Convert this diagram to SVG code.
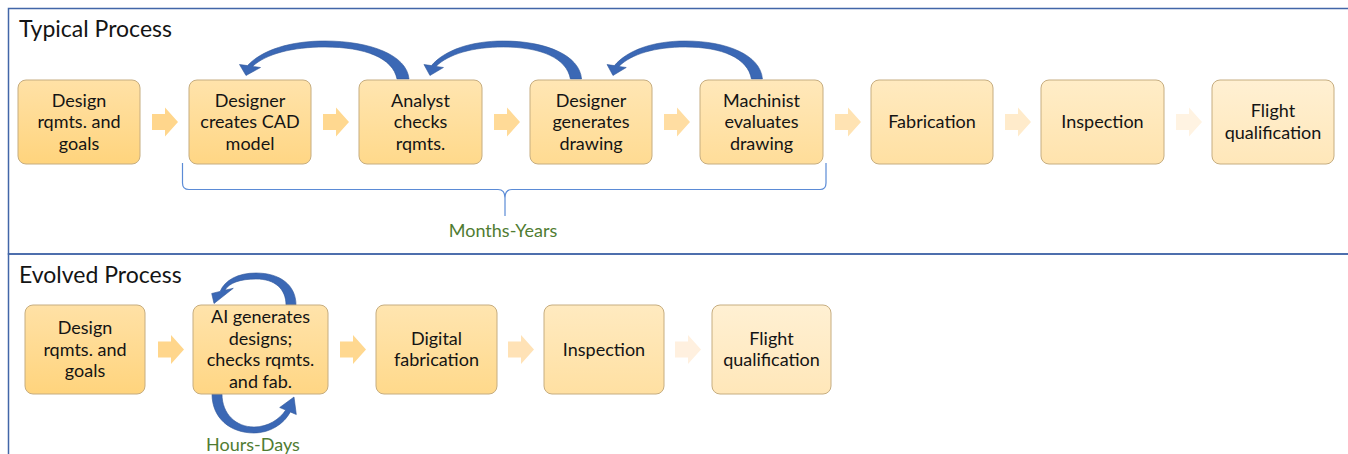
<svg xmlns="http://www.w3.org/2000/svg" xmlns:xlink="http://www.w3.org/1999/xlink" width="1348" height="454" viewBox="0 0 1348 454">
<style>
.frame{fill:none;stroke:#4266A8;stroke-width:1.5}
.box{stroke:#C6AD80;stroke-width:1}
.t{font-family:Lato,"Liberation Sans",sans-serif;font-size:18px;fill:#141414;text-anchor:middle}
.title{font-family:Lato,"Liberation Sans",sans-serif;font-size:23px;fill:#141414}
.dur{font-family:Lato,"Liberation Sans",sans-serif;font-size:18px;fill:#507C32;text-anchor:middle}
.loop{fill:#3B68B5;stroke:#2F5698;stroke-width:0.6}
.brace{fill:none;stroke:#5B8BD6;stroke-width:1.2}
</style>
<defs>
<linearGradient id="g1" x1="0" y1="0" x2="0" y2="1"><stop offset="0" stop-color="#FFE1A6"/><stop offset="1" stop-color="#FFD47D"/></linearGradient>
<linearGradient id="g2" x1="0" y1="0" x2="0" y2="1"><stop offset="0" stop-color="#FFE3AB"/><stop offset="1" stop-color="#FFD684"/></linearGradient>
<linearGradient id="g3" x1="0" y1="0" x2="0" y2="1"><stop offset="0" stop-color="#FFE5B0"/><stop offset="1" stop-color="#FFD98B"/></linearGradient>
<linearGradient id="g4" x1="0" y1="0" x2="0" y2="1"><stop offset="0" stop-color="#FFE6B4"/><stop offset="1" stop-color="#FFDB92"/></linearGradient>
<linearGradient id="g5" x1="0" y1="0" x2="0" y2="1"><stop offset="0" stop-color="#FFE8BA"/><stop offset="1" stop-color="#FFDD99"/></linearGradient>
<linearGradient id="g6" x1="0" y1="0" x2="0" y2="1"><stop offset="0" stop-color="#FFEAC0"/><stop offset="1" stop-color="#FFE0A2"/></linearGradient>
<linearGradient id="g7" x1="0" y1="0" x2="0" y2="1"><stop offset="0" stop-color="#FFEDC8"/><stop offset="1" stop-color="#FFE3AD"/></linearGradient>
<linearGradient id="g8" x1="0" y1="0" x2="0" y2="1"><stop offset="0" stop-color="#FFF0D3"/><stop offset="1" stop-color="#FFE7B9"/></linearGradient>
<path id="chev" d="M0,-8 H13 V-14.5 L26,0 L13,14.5 V8 H0 Z"/>
<path id="curv" d="M409,79 C407,55 370,41 325,41 C290,41 262,50 247.5,65.6 L239.5,64.5 L246,75.5 L260.5,67.5 L252.5,66.4 C266,54 292,47 325,47 C365,47 393,58 397,79 Z"/>
</defs>
<rect width="1348" height="454" fill="#FFFFFF"/>
<rect class="frame" x="8.5" y="8.5" width="1350" height="245.5"/>
<rect class="frame" x="8.5" y="254" width="1350" height="220"/>
<text class="title" x="19" y="37">Typical Process</text>
<text class="title" x="19" y="283">Evolved Process</text>

<g id="connectors">
<use href="#chev" x="152" y="122" fill="#FFD68C"/>
<use href="#chev" x="323" y="122" fill="#FFD890"/>
<use href="#chev" x="494" y="122" fill="#FFDA97"/>
<use href="#chev" x="664" y="122" fill="#FFDDA2"/>
<use href="#chev" x="835" y="122" fill="#FFE3B3"/>
<use href="#chev" x="1005" y="122" fill="#FFEBCB"/>
<use href="#chev" x="1176" y="122" fill="#FFF3E2"/>
<use href="#chev" x="158" y="349.5" fill="#FFD68C"/>
<use href="#chev" x="340" y="349.5" fill="#FFD890"/>
<use href="#chev" x="508" y="349.5" fill="#FFE2B6"/>
<use href="#chev" x="675" y="349.5" fill="#FFF0DF"/>
<use href="#curv" class="loop"/>
<use href="#curv" class="loop" transform="translate(201.2,0) scale(0.93,1)"/>
<use href="#curv" class="loop" transform="translate(387.4,0) scale(0.917,1)"/>
<path class="loop" d="M296,305 C296,285 280,273 256,273 C238,273 225,280 220.1,291.4 L211.7,293.5 L214,303.5 L233.3,288.3 L224.9,290.2 C229,283 240,279 256,279 C275,279 286,289 286,305 Z"/>
<path class="loop" d="M212,394 C212,418 230,433 254,433 C270,433 284,424 290.3,412 L296.3,414.5 L294,397 L279.7,407.5 L285.7,410 C280,419 268,427 254,427 C236,427 222,414 222,394 Z"/>
<path class="brace" d="M182.5,163 V183 Q182.5,189.5 189,189.5 H498 Q505,189.5 505,198 V216 M505,198 Q505,189.5 512,189.5 H820 Q826,189.5 826,183 V163"/>
</g>
<text class="dur" x="503" y="237">Months-Years</text>
<text class="dur" x="253" y="451">Hours-Days</text>

<g id="t1"><rect class="box" x="18" y="80" width="122" height="84" rx="8" fill="url(#g1)"/>
<text class="t" x="79" y="106.5">Design</text><text class="t" x="79" y="128">rqmts. and</text><text class="t" x="79" y="149.5">goals</text></g>
<g id="t2"><rect class="box" x="189" y="80" width="122" height="84" rx="8" fill="url(#g2)"/>
<text class="t" x="250" y="106.5">Designer</text><text class="t" x="250" y="128">creates CAD</text><text class="t" x="250" y="149.5">model</text></g>
<g id="t3"><rect class="box" x="359" y="80" width="123" height="84" rx="8" fill="url(#g3)"/>
<text class="t" x="420.5" y="106.5">Analyst</text><text class="t" x="420.5" y="128">checks</text><text class="t" x="420.5" y="149.5">rqmts.</text></g>
<g id="t4"><rect class="box" x="530" y="80" width="122" height="84" rx="8" fill="url(#g4)"/>
<text class="t" x="591" y="106.5">Designer</text><text class="t" x="591" y="128">generates</text><text class="t" x="591" y="149.5">drawing</text></g>
<g id="t5"><rect class="box" x="700" y="80" width="123" height="84" rx="8" fill="url(#g5)"/>
<text class="t" x="761.5" y="106.5">Machinist</text><text class="t" x="761.5" y="128">evaluates</text><text class="t" x="761.5" y="149.5">drawing</text></g>
<g id="t6"><rect class="box" x="871" y="80" width="122" height="84" rx="8" fill="url(#g6)"/>
<text class="t" x="932" y="128">Fabrication</text></g>
<g id="t7"><rect class="box" x="1041" y="80" width="123" height="84" rx="8" fill="url(#g7)"/>
<text class="t" x="1102.5" y="128">Inspection</text></g>
<g id="t8"><rect class="box" x="1212" y="80" width="122" height="84" rx="8" fill="url(#g8)"/>
<text class="t" x="1273" y="117.25">Flight</text><text class="t" x="1273" y="138.75">qualification</text></g>

<g id="e1"><rect class="box" x="25" y="305" width="120" height="89" rx="8" fill="url(#g1)"/>
<text class="t" x="85" y="334">Design</text><text class="t" x="85" y="355.5">rqmts. and</text><text class="t" x="85" y="377">goals</text></g>
<g id="e2"><rect class="box" x="193" y="305" width="135" height="89" rx="8" fill="url(#g2)"/>
<text class="t" x="260.5" y="323">AI generates</text><text class="t" x="260.5" y="344.5">designs;</text><text class="t" x="260.5" y="366">checks rqmts.</text><text class="t" x="260.5" y="387.5">and fab.</text></g>
<g id="e3"><rect class="box" x="376" y="305" width="121" height="89" rx="8" fill="url(#g3)"/>
<text class="t" x="436.5" y="344.75">Digital</text><text class="t" x="436.5" y="366.25">fabrication</text></g>
<g id="e4"><rect class="box" x="544" y="305" width="120" height="89" rx="8" fill="url(#g6)"/>
<text class="t" x="604" y="355.5">Inspection</text></g>
<g id="e5"><rect class="box" x="712" y="305" width="119" height="89" rx="8" fill="url(#g8)"/>
<text class="t" x="771.5" y="344.75">Flight</text><text class="t" x="771.5" y="366.25">qualification</text></g>
</svg>
